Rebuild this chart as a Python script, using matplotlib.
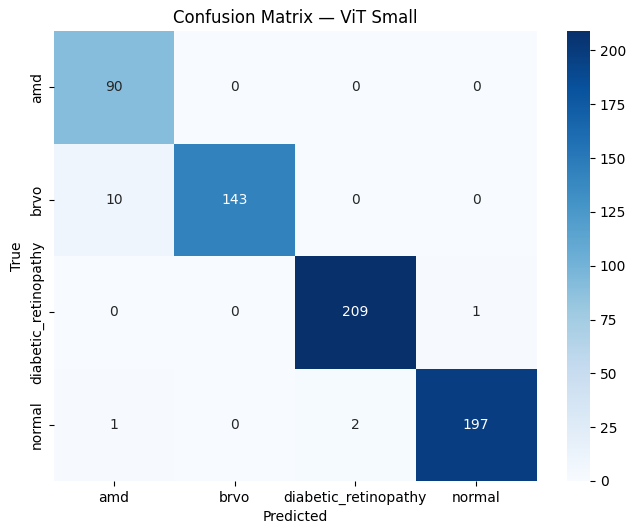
import numpy as np
import matplotlib
matplotlib.use("Agg")
import matplotlib.pyplot as plt
import seaborn as sns

classes = ["amd", "brvo", "diabetic_retinopathy", "normal"]
# rows = true class, cols = predicted class
cm = np.array([
    [90, 0, 0, 0],
    [10, 143, 0, 0],
    [0, 0, 209, 1],
    [1, 0, 2, 197],
])

W, H = 627, 525
fig = plt.figure(figsize=(W / 100, H / 100), dpi=100)
ax = fig.add_axes([53.5 / W, 1 - 481 / H, 483 / W, 450 / H])
cax = fig.add_axes([567 / W, 1 - 481 / H, 23 / W, 450 / H])

sns.heatmap(cm, annot=True, fmt="d", cmap="Blues",
            xticklabels=classes, yticklabels=classes,
            ax=ax, cbar_ax=cax)
ax.set_title("Confusion Matrix \u2014 ViT Small")
ax.set_xlabel("Predicted")
ax.set_ylabel("True")

fig.savefig("out.png", dpi=100)
